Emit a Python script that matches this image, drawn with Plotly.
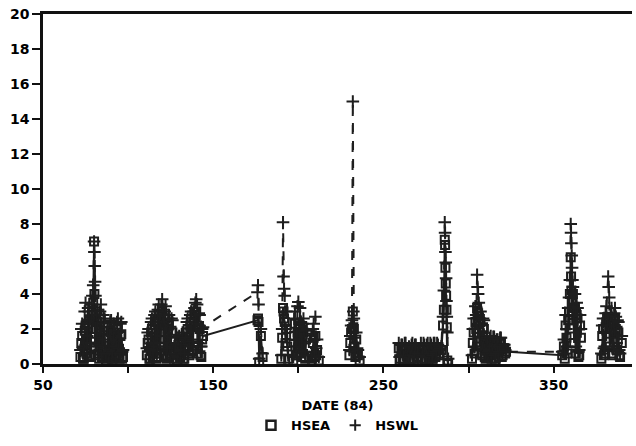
import plotly.graph_objects as go

# ---- data (date of 1984, wave heights) ----
a_d = [72, 72.5, 73, 73.5, 74, 74.5, 75, 75.5, 76, 76.5, 77, 77.5, 78, 78.5, 79, 79.5, 80, 80.2, 80.4, 80.6, 80.8, 81, 81.5, 82, 82.5, 83, 83.5, 84, 84.5, 85, 85.5, 86, 86.5, 87, 88, 88.5, 89, 89.5, 90, 90.5, 91, 91.5, 92, 92.5, 93, 93.5, 94, 94.5, 95, 95.5, 96, 96.5, 97]
a_sea = [0.4, 1.2, 1.6, 0.3, 0.3, 1.9, 2.2, 0.6, 0.8, 2.3, 2.5, 0.4, 0.5, 2.6, 2.8, 3.5, 7.0, 4.0, 2.6, 1.0, 3.0, 0.5, 2.0, 2.4, 0.6, 0.3, 2.2, 2.6, 0.4, 0.8, 2.1, 1.9, 0.5, 0.2, 1.5, 0.3, 0.4, 1.9, 1.8, 0.3, 0.3, 1.7, 1.6, 0.4, 0.5, 1.8, 2.0, 0.5, 0.3, 1.6, 1.7, 0.3, 0.4]
a_swl = [0.8, 2.0, 2.3, 0.9, 1.0, 3.0, 3.5, 1.2, 1.6, 3.2, 3.0, 1.0, 1.2, 3.4, 3.9, 4.5, 7.0, 6.4, 5.6, 4.7, 3.9, 1.5, 2.8, 3.1, 1.1, 1.0, 3.0, 3.4, 1.0, 1.4, 2.8, 2.6, 0.9, 0.6, 2.1, 0.7, 0.8, 2.4, 2.5, 0.6, 0.7, 2.3, 2.2, 0.8, 1.0, 2.4, 2.6, 0.9, 0.6, 2.3, 2.4, 0.7, 0.8]

b_d = [111, 111.5, 112, 112.5, 113, 113.5, 114, 114.5, 115, 115.5, 116, 116.5, 117, 117.5, 118, 118.5, 119, 119.5, 120, 120.5, 121, 121.5, 122, 122.5, 123, 123.5, 124, 124.5, 125, 125.5, 126]
b_sea = [0.5, 1.2, 1.4, 0.3, 0.3, 1.8, 2.0, 0.4, 0.6, 2.2, 2.4, 0.3, 0.4, 2.5, 2.8, 0.6, 1.0, 2.7, 3.0, 2.2, 0.5, 2.3, 2.6, 0.3, 0.4, 2.0, 2.2, 0.5, 0.6, 1.9, 1.8]
b_swl = [0.9, 1.8, 2.0, 0.7, 0.8, 2.4, 2.6, 0.9, 1.2, 2.8, 3.0, 0.8, 1.0, 3.1, 3.4, 1.2, 1.6, 3.4, 3.7, 3.1, 1.0, 3.0, 3.3, 0.8, 0.9, 2.6, 2.8, 1.0, 1.2, 2.6, 2.5]

c_d = [127, 127.5, 128, 128.5, 129, 129.5, 130, 130.5, 131, 131.5, 132, 132.5, 133, 133.5, 134, 134.5, 135, 135.5, 136, 136.5, 137, 137.5, 138, 138.5, 139, 139.5, 140, 140.5, 141, 141.5, 142, 142.5, 143, 143.5, 144,
       176, 176.3, 176.6, 177, 178, 179]
c_sea = [0.3, 0.7, 0.8, 0.2, 0.2, 1.1, 1.2, 0.4, 0.5, 1.3, 1.4, 0.3, 0.3, 0.9, 1.0, 1.8, 2.0, 0.6, 0.5, 2.2, 2.4, 0.7, 0.8, 2.4, 2.6, 2.8, 3.0, 2.2, 0.6, 2.1, 2.0, 0.5, 0.4, 1.4, 1.6,
         2.5, 2.6, 2.4, 0.1, 1.6, 0.4]
c_swl = [0.6, 1.1, 1.2, 0.5, 0.4, 1.5, 1.6, 0.7, 0.8, 1.7, 1.8, 0.6, 0.6, 1.4, 1.5, 2.4, 2.6, 1.1, 1.0, 2.8, 3.0, 1.3, 1.4, 3.0, 3.2, 3.5, 3.7, 3.4, 1.2, 2.9, 2.8, 1.0, 1.0, 2.0, 2.1,
         4.1, 4.5, 3.4, 0.3, 2.0, 0.6]

e1_d = [190, 190.5, 191, 191.3, 191.6, 192, 192.5, 193, 193.5, 194]
e1_sea = [0.3, 1.5, 3.2, 3.0, 2.6, 2.4, 1.2, 2.0, 1.0, 0.3]
e1_swl = [0.5, 2.0, 8.1, 5.0, 4.3, 3.9, 2.0, 3.0, 1.4, 0.5]

e2_d = [197, 197.5, 198, 198.5, 199, 199.5, 200, 200.5, 201, 201.5, 202, 202.5, 203, 203.5, 204, 204.5, 205]
e2_sea = [0.2, 1.6, 2.3, 0.5, 0.5, 1.8, 2.0, 0.6, 2.2, 1.6, 0.4, 1.5, 1.8, 0.4, 0.3, 1.4, 1.5]
e2_swl = [0.4, 2.6, 3.0, 1.0, 1.0, 3.3, 3.55, 1.0, 3.2, 2.4, 0.8, 2.3, 2.6, 0.7, 0.5, 1.9, 2.0]

e3_d = [208, 208.5, 209, 209.5, 210, 210.5, 211, 212]
e3_sea = [0.3, 1.2, 1.5, 0.4, 1.6, 0.5, 0.8, 0.2]
e3_swl = [0.5, 2.0, 2.3, 0.7, 2.7, 0.9, 1.4, 0.4]

f_d = [230, 230.5, 231, 231.5, 232, 232.3, 232.6, 233, 233.5, 234, 234.5, 235, 236]
f_sea = [0.5, 1.2, 1.8, 2.0, 3.0, 2.1, 2.0, 1.0, 0.4, 1.4, 0.6, 0.5, 0.2]
f_swl = [0.8, 1.6, 2.2, 2.5, 15.0, 3.0, 2.6, 1.5, 0.7, 1.8, 0.9, 0.8, 0.4]

g_d = [259, 259.5, 260, 260.5, 261, 261.5, 262, 262.5, 263, 265, 265.5, 266, 266.5, 267, 267.5, 268, 268.5, 269, 269.5, 270, 272, 272.5, 273, 273.5, 274, 274.5, 275, 275.5, 276, 276.5, 277, 277.5, 278, 278.5, 279, 279.5, 280, 280.5, 281, 281.5, 282, 282.5, 283,
       284, 285, 285.5, 286, 286.2, 286.4, 286.6, 286.8, 287, 287.2, 287.5, 288]
g_sea = [0.9, 0.2, 0.3, 0.8, 0.8, 0.3, 0.2, 0.9, 0.9, 0.7, 0.2, 0.3, 0.8, 0.9, 0.3, 0.2, 0.8, 0.8, 0.2, 0.4, 0.9, 0.2, 0.3, 0.9, 0.8, 0.3, 0.2, 0.8, 0.9, 0.2, 0.4, 0.9, 0.8, 0.3, 0.3, 0.9, 0.9, 0.4, 0.5, 0.9, 0.8, 0.5, 0.6,
         0.8, 2.2, 3.1, 7.1, 6.8, 5.5, 4.6, 3.9, 3.1, 2.1, 0.2, 0.0]
g_swl = [1.2, 0.4, 0.5, 1.1, 1.1, 0.5, 0.4, 1.2, 1.2, 1.0, 0.4, 0.5, 1.1, 1.2, 0.5, 0.4, 1.1, 1.1, 0.4, 0.6, 1.2, 0.4, 0.5, 1.2, 1.1, 0.5, 0.4, 1.1, 1.2, 0.4, 0.6, 1.2, 1.1, 0.5, 0.5, 1.2, 1.2, 0.6, 0.7, 1.2, 1.1, 0.8, 0.9,
         1.0, 2.7, 4.2, 8.1, 7.5, 6.4, 5.8, 4.9, 3.6, 2.7, 1.8, 0.3]

h_d = [302, 302.5, 303, 303.5, 304, 304.5, 305, 305.3, 305.6, 306, 306.5, 307, 307.5, 308, 308.5, 309, 309.5, 310, 310.5, 311, 311.5, 312, 312.5, 313, 313.5, 314, 314.5, 315, 315.5, 316, 316.5, 317, 317.5, 318, 318.5, 319, 319.5, 320, 320.5, 321, 321.5, 322,
       355, 356, 356.5, 357, 357.5, 358, 358.5, 359, 359.5, 360, 360.2, 360.4, 360.6, 360.8, 361, 361.3, 361.6, 362, 362.5, 363, 363.5, 364, 364.5, 365, 365.5, 366]
h_sea = [0.3, 1.2, 1.8, 0.6, 2.4, 2.0, 3.2, 3.0, 2.9, 2.3, 1.0, 2.4, 0.6, 0.5, 2.1, 2.0, 0.4, 0.3, 1.2, 1.3, 0.4, 0.5, 1.1, 1.2, 0.3, 0.6, 1.1, 1.0, 0.2, 0.3, 1.0, 1.1, 0.4, 0.8, 1.2, 1.2, 0.4, 0.5, 0.9, 0.9, 0.6, 0.7,
         0.5, 1.0, 0.3, 2.2, 1.5, 0.6, 2.5, 3.0, 4.0, 6.1, 5.0, 4.2, 3.6, 3.0, 2.8, 4.0, 2.5, 1.2, 3.2, 0.6, 2.8, 2.6, 0.4, 0.5, 2.2, 1.5]
h_swl = [0.5, 2.0, 2.6, 1.0, 3.3, 2.8, 5.1, 4.4, 4.0, 3.5, 1.5, 3.0, 1.0, 0.9, 2.6, 2.5, 0.8, 0.6, 1.5, 1.5, 0.7, 0.8, 1.5, 1.6, 0.6, 1.0, 1.55, 1.55, 0.5, 0.6, 1.4, 1.4, 0.7, 1.0, 1.5, 1.5, 0.7, 0.8, 1.1, 1.1, 0.8, 0.7,
         0.7, 1.4, 0.6, 2.8, 2.0, 1.0, 3.2, 3.8, 4.8, 8.0, 7.5, 6.9, 6.2, 5.5, 4.8, 4.4, 3.3, 1.8, 4.0, 1.0, 3.5, 3.2, 0.7, 0.8, 2.8, 2.0]

j_d = [378, 378.5, 379, 379.5, 380, 380.5, 381, 382, 382.3, 382.6, 383, 383.5, 384, 384.5, 385, 385.5, 386, 386.5, 387, 387.5, 388, 388.5, 389, 390]
j_sea = [0.3, 1.6, 2.0, 0.5, 0.6, 2.1, 2.4, 2.7, 2.5, 2.2, 1.0, 2.0, 2.3, 0.6, 0.5, 2.2, 2.6, 2.0, 0.8, 1.9, 1.8, 0.5, 0.4, 1.2]
j_swl = [0.6, 2.2, 2.6, 0.9, 1.0, 2.9, 3.3, 5.0, 4.4, 3.8, 1.5, 2.8, 3.2, 1.0, 0.9, 2.9, 3.2, 2.7, 1.2, 2.5, 2.4, 0.8, 0.6, 1.6]

x_ticks = [50, 150, 250, 350]
y_ticks = [0, 2, 4, 6, 8, 10, 12, 14, 16, 18, 20]

segments = [(a_d, a_sea, a_swl), (b_d, b_sea, b_swl), (c_d, c_sea, c_swl), (e1_d, e1_sea, e1_swl),
            (e2_d, e2_sea, e2_swl), (e3_d, e3_sea, e3_swl), (f_d, f_sea, f_swl), (g_d, g_sea, g_swl),
            (h_d, h_sea, h_swl), (j_d, j_sea, j_swl)]

dates, hsea, hswl = [], [], []
for d, s, w in segments:
    dates += d + [None]
    hsea += s + [None]
    hswl += w + [None]

INK = "#1e1e1e"
FONT = "DejaVu Sans"
TFONT = dict(family=FONT, size=14, color="#000", weight="bold")

fig = go.Figure()
fig.add_trace(go.Scatter(x=dates, y=hsea, mode="lines+markers", showlegend=False, connectgaps=False,
                         line=dict(color=INK, width=2),
                         marker=dict(symbol="square-open", size=8, color=INK, line=dict(width=2, color=INK))))
fig.add_trace(go.Scatter(x=dates, y=hswl, mode="lines+markers", showlegend=False, connectgaps=False,
                         line=dict(color=INK, width=2, dash="dash"),
                         marker=dict(symbol="cross-thin", size=9, color=INK, line=dict(width=2, color=INK))))
# legend entries (marker only)
fig.add_trace(go.Scatter(x=[None], y=[None], mode="markers", name="HSEA",
                         marker=dict(symbol="square-open", size=9, color=INK, line=dict(width=2.5, color=INK))))
fig.add_trace(go.Scatter(x=[None], y=[None], mode="markers", name="HSWL",
                         marker=dict(symbol="cross-thin", size=8, color=INK, line=dict(width=2, color=INK))))

fig.update_layout(
    width=636, height=446,
    margin=dict(l=43, r=4, t=14, b=82),
    paper_bgcolor="white", plot_bgcolor="white",
    font=TFONT,
    showlegend=True,
    legend=dict(orientation="h", x=0.5, xanchor="center", y=-0.175, yanchor="middle",
                font=dict(family=FONT, size=13, color="#000", weight="bold"),
                itemwidth=30, tracegroupgap=0, bgcolor="rgba(0,0,0,0)"),
)
fig.update_xaxes(range=[50, 396], tickvals=x_ticks, ticktext=[str(v) for v in x_ticks], tickfont=TFONT,
                 showgrid=False, zeroline=False, showline=True, linecolor="#111", linewidth=2.5,
                 mirror=True, ticks="outside", ticklen=6, tickwidth=2, tickcolor="#111",
                 minor=dict(tickvals=[100, 200, 300], ticks="outside", ticklen=6, tickwidth=2, tickcolor="#111"),
                 title=dict(text="DATE (84)", standoff=10, font=dict(family=FONT, size=13, color="#000", weight="bold")))
fig.update_yaxes(range=[0, 20], tickvals=y_ticks, showgrid=False, zeroline=False, showline=True, tickfont=TFONT,
                 linecolor="#111", linewidth=2.5, ticks="outside", ticklen=8, tickwidth=2, tickcolor="#111")

fig.write_html("out.html")
